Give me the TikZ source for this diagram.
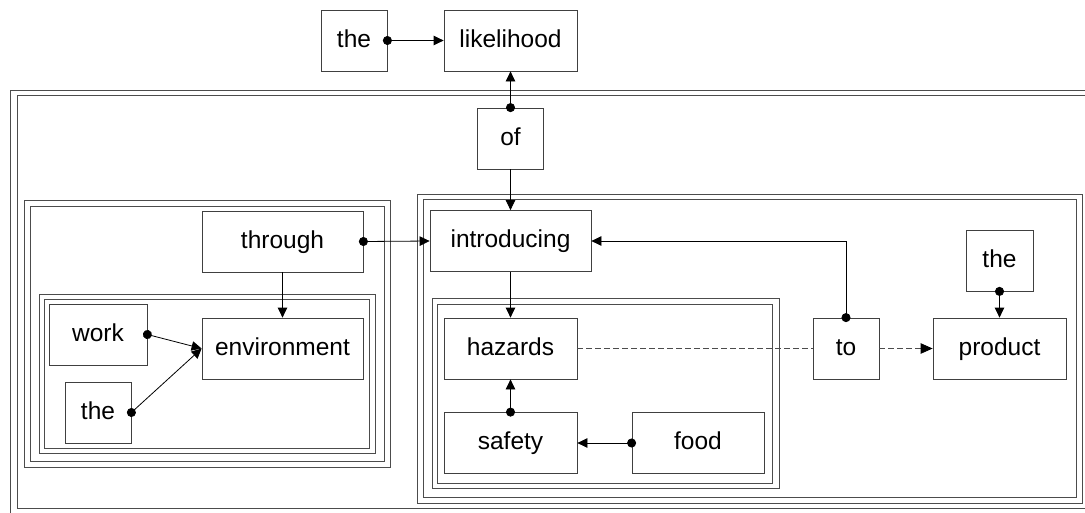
\documentclass[tikz,border=0pt]{standalone}
\usepackage{fontspec}
\setmainfont{Liberation Sans}
\usetikzlibrary{arrows.meta}

\begin{document}
\begin{tikzpicture}
        [
          x=1pt, y=-1pt,
          word/.style={draw=black!75, line width=0.8pt, minimum height=61pt, inner sep=0pt,
            font=\fontsize{24.5}{29}\selectfont, text height=18pt, text depth=5pt},
          frame/.style={draw=black!70, line width=0.9pt},
          link/.style={line width=0.8pt, -{Triangle[length=10pt,width=9.5pt]}},
          dotlink/.style={line width=0.8pt, {Circle[length=9pt]}-{Triangle[length=10pt,width=9.5pt]}, shorten <=-4.5pt},
          dashlink/.style={draw=black!70, line width=0.8pt, dash pattern=on 6pt off 3pt}
        ]
        \useasboundingbox (0,0) rectangle (1085,512);
        % frames
        \foreach \a/\b/\c/\d in {10/90/1100/516, 17/95/1094/508,
                                 24/200/390/467, 30/206/384/461,
                                 39/294/375/453, 44/299/369/448,
                                 417/194/1082/503, 423/199/1076/497,
                                 432/298/779/488, 437/304/772/483} {
            \draw [frame] (\a,\b) rectangle (\c,\d);
        }
        % top
        \node [word, minimum width=66pt] (the1) at (354,40.5) {the};
        \node [word, minimum width=133pt] (likelihood) at (510.5,40.5) {likelihood};
        \node [word, minimum width=66pt] (of) at (510.5,138.5) {of};
        % left group
        \node [word, minimum width=161pt] (through) at (282.5,241.5) {through};
        \node [word, minimum width=161pt] (environment) at (282.5,348.5) {environment};
        \node [word, minimum width=98pt] (work) at (98,334.5) {work};
        \node [word, minimum width=66pt] (the2) at (98,412.5) {the};
        % right group
        \node [word, minimum width=161pt] (introducing) at (510.5,241) {introducing};
        \node [word, minimum width=133pt] (hazards) at (510.5,348.5) {hazards};
        \node [word, minimum width=133pt] (safety) at (510.5,443) {safety};
        \node [word, minimum width=132pt] (food) at (698,443) {food};
        \node [word, minimum width=66pt] (to) at (846,348.5) {to};
        \node [word, minimum width=133pt] (product) at (999.5,348.5) {product};
        \node [word, minimum width=67pt] (the3) at (999.5,260.5) {the};
        % edges
        \draw [dotlink] (the1.east) -- (likelihood.west);
        \draw [dotlink] (of.north) -- (likelihood.south);
        \draw [link] (of.south) -- (introducing.north);
        \draw [dotlink] (through.east) -- (introducing.west);
        \draw [link] (through.south) -- (environment.north);
        \draw [dotlink] (work.east) -- (environment.west);
        \draw [dotlink] (the2.east) -- (environment.west);
        \draw [link] (introducing.south) -- (hazards.north);
        \draw [dotlink] (safety.north) -- (hazards.south);
        \draw [dotlink] (food.west) -- (safety.east);
        \draw [dotlink] (to.north) |- (introducing.east);
        \draw [dotlink] (the3.south) -- (product.north);
        \draw [dashlink] (hazards.east) -- (to.west);
        \draw [dashlink, -{Triangle[length=12pt,width=10.5pt,black]}] (to.east) -- (product.west);
      \end{tikzpicture}
\end{document}
